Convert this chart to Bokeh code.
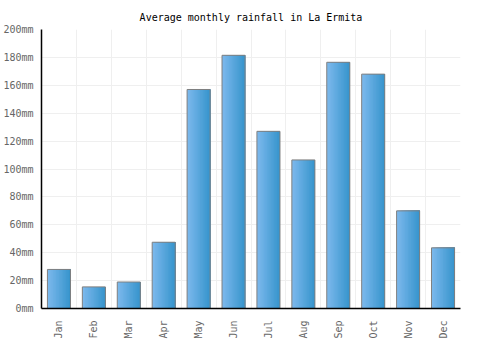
import math
from bokeh.plotting import figure
from bokeh.models import FactorRange, Range1d, FixedTicker, PrintfTickFormatter, ColumnDataSource
from bokeh.transform import dodge
from bokeh.embed import file_html
from bokeh.resources import INLINE

months = ["Jan", "Feb", "Mar", "Apr", "May", "Jun", "Jul", "Aug", "Sep", "Oct", "Nov", "Dec"]
rainfall = [28, 15.5, 19, 47.5, 157, 181.5, 127, 106.5, 176.5, 168, 70, 43.5]
y_ticks = [0, 20, 40, 60, 80, 100, 120, 140, 160, 180, 200]

source = ColumnDataSource(data=dict(month=months, rain=rainfall))

p = figure(
    width=500, height=350,
    x_range=FactorRange(*months, range_padding=0),
    y_range=Range1d(0, 200),
    output_backend="svg", toolbar_location=None,
    title="Average monthly rainfall in La Ermita",
    min_border_left=41, min_border_right=40, min_border_top=29, min_border_bottom=42,
)
p.outline_line_color = None
p.title.align = "center"
p.title.text_font = "DejaVu Sans Mono"
p.title.text_font_size = "10px"
p.title.text_font_style = "normal"
p.title.text_color = "#000000"
p.title.standoff = 13

# gradient bars built from overlapping slices (left edge moves right, right edge fixed)
bar_w = 0.66
n = 16
c0 = (0x7b, 0xb8, 0xec)
c1 = (0x38, 0x95, 0xcd)
for i in range(n):
    t = i / (n - 1)
    col = "#%02x%02x%02x" % tuple(int(round(a + (b - a) * t)) for a, b in zip(c0, c1))
    left = -bar_w / 2 + bar_w / n * i
    w = bar_w / 2 - left
    p.vbar(x=dodge("month", left + w / 2, range=p.x_range), top="rain", width=w,
           source=source, fill_color=col, line_color=None)
p.vbar(x="month", top="rain", width=bar_w, source=source, fill_color=None,
       line_color="#7f7f7f", line_width=1)

p.xgrid.ticker = FixedTicker(ticks=list(range(0, 13)))
p.xgrid.grid_line_color = "#efefef"
p.ygrid.ticker = FixedTicker(ticks=y_ticks)
p.ygrid.grid_line_color = "#efefef"

p.yaxis.ticker = FixedTicker(ticks=y_ticks)
p.yaxis.formatter = PrintfTickFormatter(format="%dmm")
for ax in (p.xaxis, p.yaxis):
    ax.axis_line_color = "#000000"
    ax.axis_line_width = 1.5
    ax.major_tick_line_color = None
    ax.minor_tick_line_color = None
    ax.major_label_text_font = "DejaVu Sans Mono"
    ax.major_label_text_font_size = "10px"
    ax.major_label_text_color = "#666666"
p.xaxis.major_label_orientation = math.pi / 2
p.xaxis.major_label_standoff = 6
p.yaxis.major_label_standoff = 2

open("out.html", "w").write(file_html(p, INLINE))
